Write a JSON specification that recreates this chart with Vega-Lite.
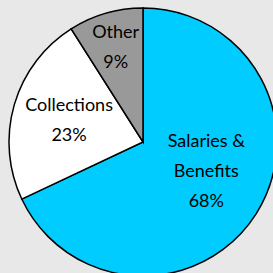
{
  "$schema": "https://vega.github.io/schema/vega-lite/v6.json",
  "width": 286,
  "height": 284,
  "padding": 0,
  "autosize": {"type": "none"},
  "background": "#e8e8e8",
  "view": {"stroke": null},
  "data": {"values": [
    {"cat": "Salaries & Benefits", "label": "Salaries &\nBenefits\n68%", "pct": 68, "idx": 1},
    {"cat": "Collections", "label": "Collections\n23%", "pct": 23, "idx": 2},
    {"cat": "Other", "label": "Other\n9%", "pct": 9, "idx": 3}
  ]},
  "transform": [
    {"stack": "pct", "groupby": [], "sort": [{"field": "idx", "order": "ascending"}], "as": ["p0", "p1"]},
    {"calculate": "(datum.p0 + datum.p1) / 2", "as": "pm"}
  ],
  "layer": [
    {
      "mark": {"type": "arc", "outerRadius": 134, "stroke": "#000000", "strokeWidth": 1.5},
      "encoding": {
        "theta": {"field": "p0", "type": "quantitative", "scale": {"domain": [0, 100]}},
        "theta2": {"field": "p1"},
        "color": {"field": "cat", "type": "nominal", "legend": null,
          "scale": {"domain": ["Salaries & Benefits", "Collections", "Other"], "range": ["#00ccff", "#ffffff", "#999999"]}}
      }
    },
    {
      "transform": [{"filter": "datum.cat === 'Other'"}],
      "mark": {"type": "text", "radius": 98, "dy": -15, "font": "Lato", "fontSize": 18, "lineBreak": "\n", "lineHeight": 30, "align": "center", "baseline": "middle", "color": "#000000"},
      "encoding": {
        "theta": {"field": "pm", "type": "quantitative", "scale": {"domain": [0, 100]}},
        "text": {"field": "label"}
      }
    },
    {
      "transform": [{"filter": "datum.cat === 'Collections'"}],
      "mark": {"type": "text", "radius": 77, "dy": -15, "font": "Lato", "fontSize": 18, "lineBreak": "\n", "lineHeight": 30, "align": "center", "baseline": "middle", "color": "#000000"},
      "encoding": {
        "theta": {"field": "pm", "type": "quantitative", "scale": {"domain": [0, 100]}},
        "text": {"field": "label"}
      }
    },
    {
      "transform": [{"filter": "datum.cat === 'Salaries & Benefits'"}],
      "mark": {"type": "text", "radius": 75, "dy": -40, "font": "Lato", "fontSize": 18, "lineBreak": "\n", "lineHeight": 30, "align": "center", "baseline": "middle", "color": "#000000"},
      "encoding": {
        "theta": {"field": "pm", "type": "quantitative", "scale": {"domain": [0, 100]}},
        "text": {"field": "label"}
      }
    }
  ]
}
